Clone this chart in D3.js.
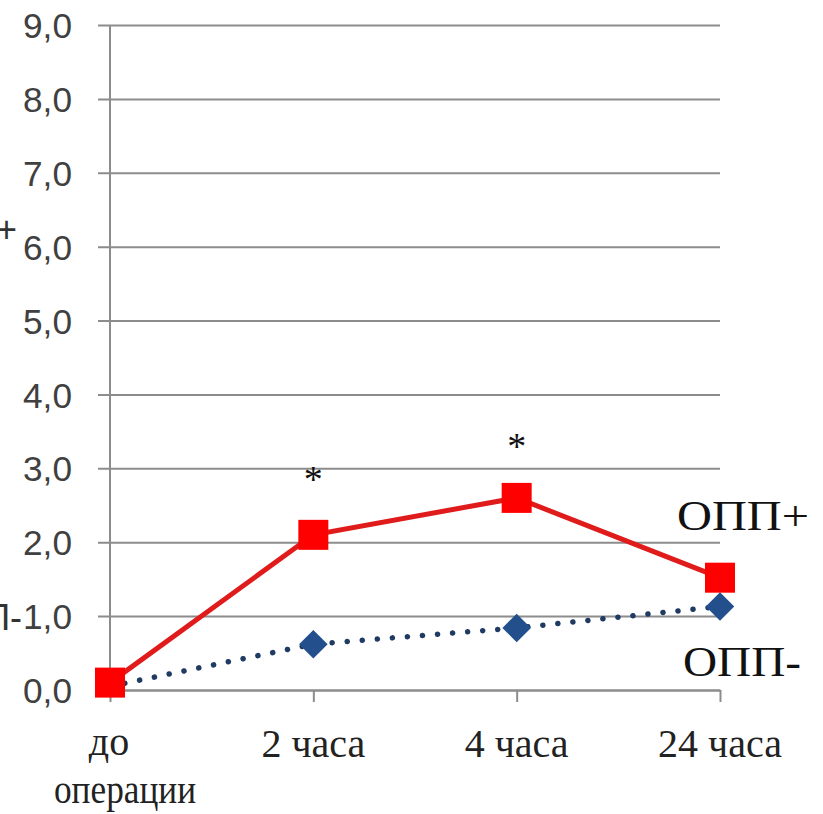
<!DOCTYPE html>
<html>
<head>
<meta charset="utf-8">
<script src="https://cdn.jsdelivr.net/npm/d3@7"></script>
<style>
  html, body { margin: 0; padding: 0; background: #fff; }
  svg { display: block; }
</style>
</head>
<body>
<svg id="chart" width="823" height="814"></svg>
<script>
// Time points after surgery
const categories = ["до операции", "2 часа", "4 часа", "24 часа"];
// Group with acute kidney injury (ОПП+)
const seriesPlus = [0.1, 2.1, 2.6, 1.52];
// Group without acute kidney injury (ОПП-)
const seriesMinus = [0.05, 0.62, 0.84, 1.13];
// Significance markers (category, y position in data units)
const starCats = ["2 часа", "4 часа"];
const starValues = [3.0, 3.45];
const yTicks = [0, 1, 2, 3, 4, 5, 6, 7, 8, 9];

const svg = d3.select("#chart");
const plotLeft = 110, plotRight = 720, plotTop = 25, plotBottom = 690;

const x = d3.scalePoint().domain(categories).range([plotLeft, plotRight]);
const y = d3.scaleLinear().domain([0, 9]).range([plotBottom, plotTop]);

const fmt = d => d.toFixed(1).replace(".", ",");
const serif = "'Liberation Serif', 'Times New Roman', serif";
const sans = "'Liberation Sans', Arial, sans-serif";

// Horizontal gridlines with short outer ticks and labels
const yAxis = svg.append("g")
  .attr("transform", `translate(${plotLeft},0)`)
  .call(d3.axisLeft(y).tickValues(yTicks).tickFormat(fmt)
    .tickSize(-(plotRight - plotLeft)).tickSizeOuter(0).tickPadding(38));
yAxis.select(".domain").remove();
yAxis.selectAll(".tick line")
  .attr("x1", -12)
  .attr("stroke", "#8c8c8c").attr("stroke-width", 2);
yAxis.selectAll(".tick text")
  .attr("fill", "#404040")
  .attr("font-family", sans)
  .attr("font-size", 35)
  .attr("textLength", 49)
  .attr("lengthAdjust", "spacingAndGlyphs")
  .attr("dy", "0.36em");

// Vertical axis line
svg.append("line")
  .attr("x1", plotLeft).attr("x2", plotLeft).attr("y1", plotTop).attr("y2", plotBottom)
  .attr("stroke", "#8c8c8c").attr("stroke-width", 2);

// Category axis
const xAxis = svg.append("g")
  .attr("transform", `translate(0,${plotBottom})`)
  .call(d3.axisBottom(x).tickSize(12).tickSizeOuter(0).tickFormat(""));
xAxis.select(".domain").attr("stroke", "#8c8c8c").attr("stroke-width", 2);
xAxis.selectAll(".tick line").attr("stroke", "#8c8c8c").attr("stroke-width", 2);

// Category labels (first one wraps onto two lines)
const catLabels = svg.append("g")
  .attr("font-family", serif)
  .attr("font-size", 40)
  .attr("fill", "#222")
  .attr("text-anchor", "middle");
categories.forEach((c, i) => {
  if (i === 0) {
    const [w1, w2] = c.split(" ");
    catLabels.append("text").attr("x", x(c) - 1).attr("y", 755).text(w1);
    catLabels.append("text").attr("x", x(c) + 15).attr("y", 803)
      .attr("textLength", 142).attr("lengthAdjust", "spacingAndGlyphs").text(w2);
  } else {
    catLabels.append("text").attr("x", x(c)).attr("y", 757).text(c);
  }
});

// Shared line generator for both series
const seriesLine = d3.line().x((d, i) => x(categories[i])).y(d => y(d));

// ОПП- : dotted line
svg.append("path")
  .datum(seriesMinus)
  .attr("d", seriesLine)
  .attr("fill", "none")
  .attr("stroke", "#1f3b63")
  .attr("stroke-width", 5.5)
  .attr("stroke-linecap", "round")
  .attr("stroke-dasharray", "0.1 15");

// ОПП+ : solid red line
svg.append("path")
  .datum(seriesPlus)
  .attr("d", seriesLine)
  .attr("fill", "none")
  .attr("stroke", "#e01b1b")
  .attr("stroke-width", 5);

// Diamond markers for ОПП-
const diamond = d3.symbol().type(d3.symbolDiamond2).size(520);
svg.append("g").selectAll("path")
  .data(seriesMinus.slice(1))
  .join("path")
  .attr("transform", (d, i) => `translate(${x(categories[i + 1])},${y(d)})`)
  .attr("d", diamond)
  .attr("fill", "#23508c");

// Square markers for ОПП+
svg.append("g").selectAll("rect")
  .data(seriesPlus)
  .join("rect")
  .attr("x", (d, i) => x(categories[i]) - 15)
  .attr("y", d => y(d) - 15)
  .attr("width", 30).attr("height", 30)
  .attr("fill", "#ff0000");

// Significance asterisks
svg.append("g").selectAll("text")
  .data(starValues)
  .join("text")
  .attr("x", (d, i) => x(starCats[i]))
  .attr("y", d => y(d) + 24)
  .attr("text-anchor", "middle")
  .attr("font-family", serif)
  .attr("font-size", 38)
  .attr("fill", "#111")
  .text("*");

// Series labels
svg.append("text").attr("x", 677).attr("y", 530)
  .attr("font-family", serif).attr("font-size", 42).attr("fill", "#111")
  .attr("textLength", 132).attr("lengthAdjust", "spacingAndGlyphs")
  .text("ОПП+");
svg.append("text").attr("x", 683).attr("y", 676)
  .attr("font-family", serif).attr("font-size", 42).attr("fill", "#111")
  .attr("textLength", 118).attr("lengthAdjust", "spacingAndGlyphs")
  .text("ОПП-");

// Axis-title fragments running off the left edge
svg.append("text").attr("x", 17).attr("y", 242).attr("text-anchor", "end")
  .attr("font-family", sans).attr("font-size", 36).attr("fill", "#333")
  .text("ОПП+");
svg.append("text").attr("x", 22).attr("y", 630).attr("text-anchor", "end")
  .attr("font-family", sans).attr("font-size", 36).attr("fill", "#333")
  .text("ОПП-");
</script>
</body>
</html>
